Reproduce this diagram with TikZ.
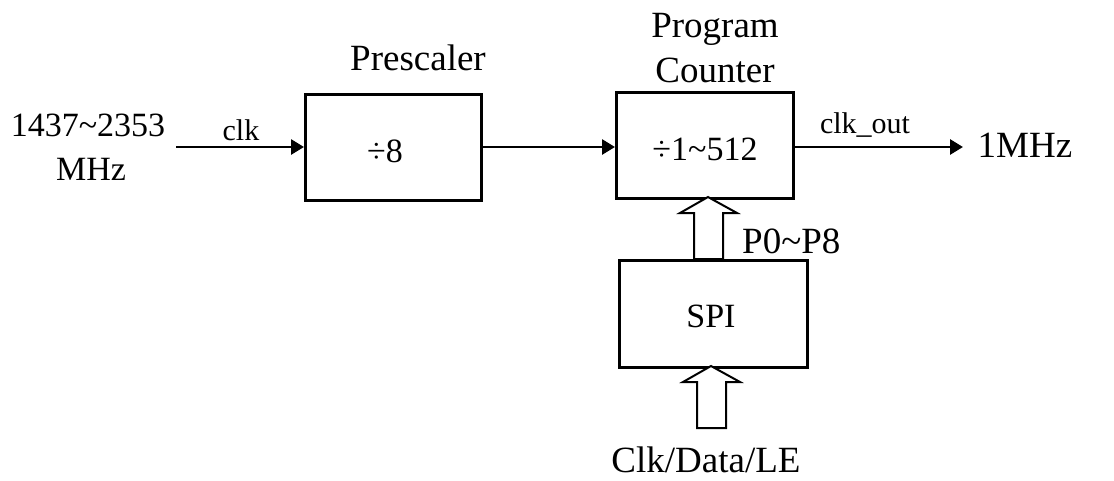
\documentclass[tikz,border=0pt]{standalone}
\usepackage{fontspec}
\setmainfont{Liberation Serif}
\usetikzlibrary{arrows.meta,calc}
\begin{document}
\begin{tikzpicture}[x=1pt,y=-1pt,
  blk/.style={draw,line width=2.6pt,inner sep=0pt,anchor=north west},
  wire/.style={line width=2.8pt},
  arr/.style={wire,-{Triangle[length=13pt,width=15pt]}},
  hollow/.style={draw,line width=2pt,line join=miter,fill=white},
  big/.style={font=\fontsize{37}{40}\selectfont,anchor=base,inner sep=0pt},
  mid/.style={font=\fontsize{34}{38}\selectfont,anchor=base,inner sep=0pt},
  lab/.style={font=\fontsize{30}{34}\selectfont,anchor=base,inner sep=0pt}]
\useasboundingbox[fill=white] (0,0) rectangle (1114,480);
% blocks
\node[blk,minimum width=176pt,minimum height=106pt] (pre) at (304,93) {};
\node[blk,minimum width=177pt,minimum height=106pt] (pc) at (615,91) {};
\node[blk,minimum width=188pt,minimum height=107pt] (spi) at (618,259) {};
% block texts
\node[mid] (t8) at (385,162) {÷8};
\node[mid] (t512) at (705,160) {÷1\raisebox{0pt}{\char"007E}512};
\node[mid] (tspi) at (711,327) {SPI};
\node[big] (tpre) at (418,70) {Prescaler};
\node[big] (tprog) at (715,37) {Program};
\node[big] (tcnt) at (715,82) {Counter};
% in/out texts
\node[mid] (fin1) at (88,136) {1437\char"007E 2353};
\node[mid] (fin2) at (91,180) {MHz};
\node[big] (fout) at (1025,157) {1MHz};
\node[lab] (lclk) at (241,140) {clk};
\node[lab] (lout) at (865,133) {clk\_out};
\node[big,anchor=base west] (lp) at (742,253) {P0\char"007E P8};
\node[big] (lctl) at (706,472) {Clk/Data/LE};
% connectors
\coordinate (in) at (176,147);
\coordinate (out) at (963,147);
\draw[arr] (in) -- (pre.west |- in);
\draw[arr] (pre.east |- in) -- (pc.west |- in);
\draw[arr] (pc.east |- in) -- (out);
% hollow arrows
\path[hollow] (708,197) -- (737,213) -- (723,213) -- (723,259) -- (694,259) -- (694,213) -- (680,213) -- cycle;
\path[hollow] (711,366) -- (740,382) -- (726,382) -- (726,428) -- (697,428) -- (697,382) -- (683,382) -- cycle;
\end{tikzpicture}
\end{document}
